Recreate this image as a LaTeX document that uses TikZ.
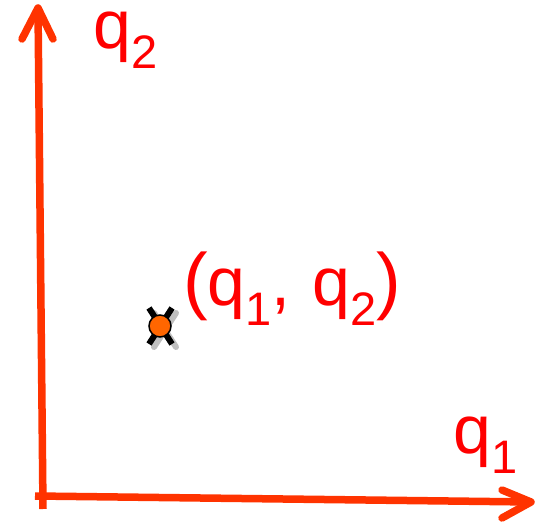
\documentclass[tikz,border=0pt]{standalone}
\usepackage{fontspec}
\setmainfont{Liberation Sans}
\definecolor{axisred}{RGB}{255,51,0}
\definecolor{labelred}{RGB}{255,0,0}
\definecolor{ptorange}{RGB}{255,102,0}
\newcommand\mysub[1]{\raisebox{-20pt}{\fontsize{47}{47}\selectfont #1}}
\newcommand\mylbl[2]{\fontsize{68}{68}\selectfont #1\mysub{#2}}
\newcommand\mypar[1]{{\fontsize{74}{74}\selectfont #1}}
\begin{document}
\begin{tikzpicture}[x=1pt,y=1pt,
  axis/.style={draw=axisred,line width=7.5pt,line cap=butt},
  chevron/.style={draw=axisred,line width=7.5pt,line cap=round,line join=round},
  lbl/.style={text=labelred,inner sep=0pt,anchor=base west,text height=36pt,text depth=36pt}]
\useasboundingbox (0,0) rectangle (535,522);
% axes
\coordinate (v0) at (43,13);
\coordinate (v1) at (38,514);
\coordinate (h0) at (35,26);
\coordinate (h1) at (531,20);
\draw[axis] (v0) -- (v1);
\draw[axis] (h0) -- (h1);
\draw[chevron] (22,483) -- (v1) -- (53,483);
\draw[chevron] (502,32) -- (h1) -- (502,4);
% labels
\node[lbl] (lq2) at (93,473) {\mylbl{q}{2}};
\node[lbl] (lq1) at (453,69) {\mylbl{q}{1}};
\node[lbl] (lpt) at (183,216) {\fontsize{68}{68}\selectfont \mypar{(}q\mysub{1},\hspace{3pt} q\mysub{2}\mypar{)}};
% point marker
\draw[black!25,line width=6pt,line cap=round] (154,209) -- (176,175) (176,209) -- (154,175);
\draw[black,line width=6pt,line cap=butt] (149,214) -- (172,178) (172,214) -- (149,178);
\node[circle,fill=ptorange,draw=black,line width=1.5pt,minimum size=22pt,inner sep=0pt] (pt) at (160,196) {};
\end{tikzpicture}
\end{document}
